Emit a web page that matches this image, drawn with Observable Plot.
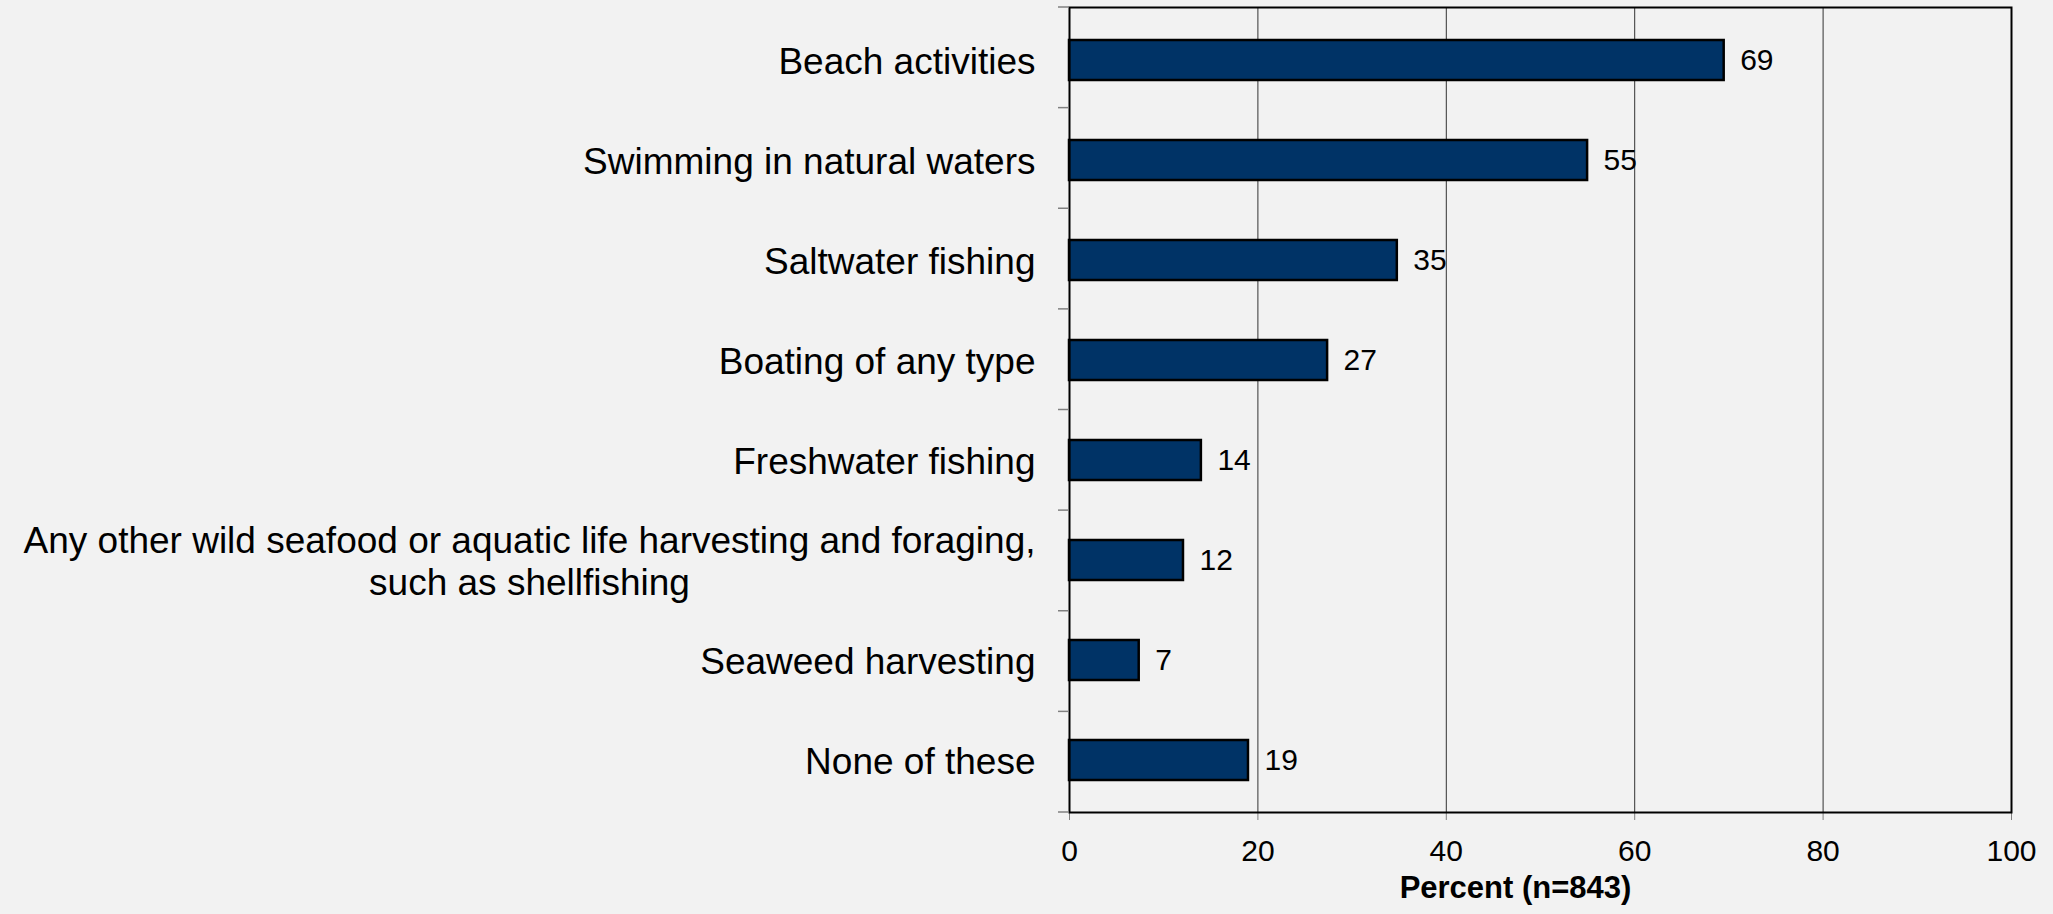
<!DOCTYPE html>
<html><head><meta charset="utf-8">
<script src="https://cdn.jsdelivr.net/npm/d3@7"></script>
<script src="https://cdn.jsdelivr.net/npm/@observablehq/plot@0.6"></script>
<style>
html,body{margin:0;padding:0;background:#f2f2f2;}
#chart{width:2053px;height:914px;}
</style></head><body><div id="chart"></div>
<script>
const categories = [
  "Beach activities",
  "Swimming in natural waters",
  "Saltwater fishing",
  "Boating of any type",
  "Freshwater fishing",
  "Any other wild seafood or aquatic life harvesting and foraging,\nsuch as shellfishing",
  "Seaweed harvesting",
  "None of these"
];
const values = [69.5, 55.0, 34.8, 27.4, 14.0, 12.1, 7.4, 19.0];
const valueLabels = ["69", "55", "35", "27", "14", "12", "7", "19"];
const xTicks = [0, 20, 40, 60, 80, 100];
const xTitle = "Percent (n=843)";

const data = categories.map((c, i) => ({category: c, value: values[i], label: valueLabels[i]}));

const yBoundaryTicks = (index, scales, vals, dims) => {
  const g = d3.create("svg:g").attr("aria-label", "y boundary ticks");
  const n = categories.length;
  const inner = dims.height - dims.marginTop - dims.marginBottom;
  for (let k = 0; k <= n; k++) {
    const y = dims.marginTop + k * inner / n;
    g.append("line")
      .attr("x1", dims.marginLeft - 11).attr("x2", dims.marginLeft)
      .attr("y1", y).attr("y2", y)
      .attr("stroke", "#808080").attr("stroke-width", 1.5);
  }
  return g.node();
};

const chart = Plot.plot({
  width: 2053, height: 914,
  marginLeft: 1069, marginRight: 42, marginTop: 7, marginBottom: 102,
  style: {background: "#f2f2f2", fontFamily: "'Liberation Sans', Arial, sans-serif", color: "black"},
  x: {domain: [0, 100], label: null},
  y: {domain: categories, paddingInner: 0.6, paddingOuter: 0.3, label: null},
  marks: [
    Plot.gridX(xTicks.slice(1, -1), {stroke: "#333", strokeOpacity: 1, strokeWidth: 1}),
    Plot.barX(data, {x: "value", y: "category", fill: "#003366", stroke: "black", strokeWidth: 2.5}),
    Plot.text(data, {x: "value", y: "category", text: "label", textAnchor: "start", dx: 16, fontSize: 30, fill: "black"}),
    Plot.axisX(xTicks, {tickSize: 8, tickPadding: 19, fontSize: 30, stroke: "#808080", fill: "black", label: null}),
    Plot.axisY({tickSize: 0, tickPadding: 34, fontSize: 37, lineHeight: 1.15, fill: "black", label: null}),
    Plot.frame({stroke: "black", strokeWidth: 2}),
    yBoundaryTicks,
    Plot.text([xTitle], {frameAnchor: "bottom", dy: 85, dx: -25, fontWeight: "bold", fontSize: 31, fill: "black"})
  ]
});
document.getElementById("chart").appendChild(chart);

// center the lines of multi-line y labels on each other, block kept right-aligned
chart.querySelectorAll("text").forEach(t => {
  const spans = t.querySelectorAll("tspan");
  if (spans.length > 1) {
    const bb = t.getBBox();
    const cx = bb.x + bb.width / 2;
    t.setAttribute("text-anchor", "middle");
    spans.forEach(s => s.setAttribute("x", cx));
  }
});
</script></body></html>
